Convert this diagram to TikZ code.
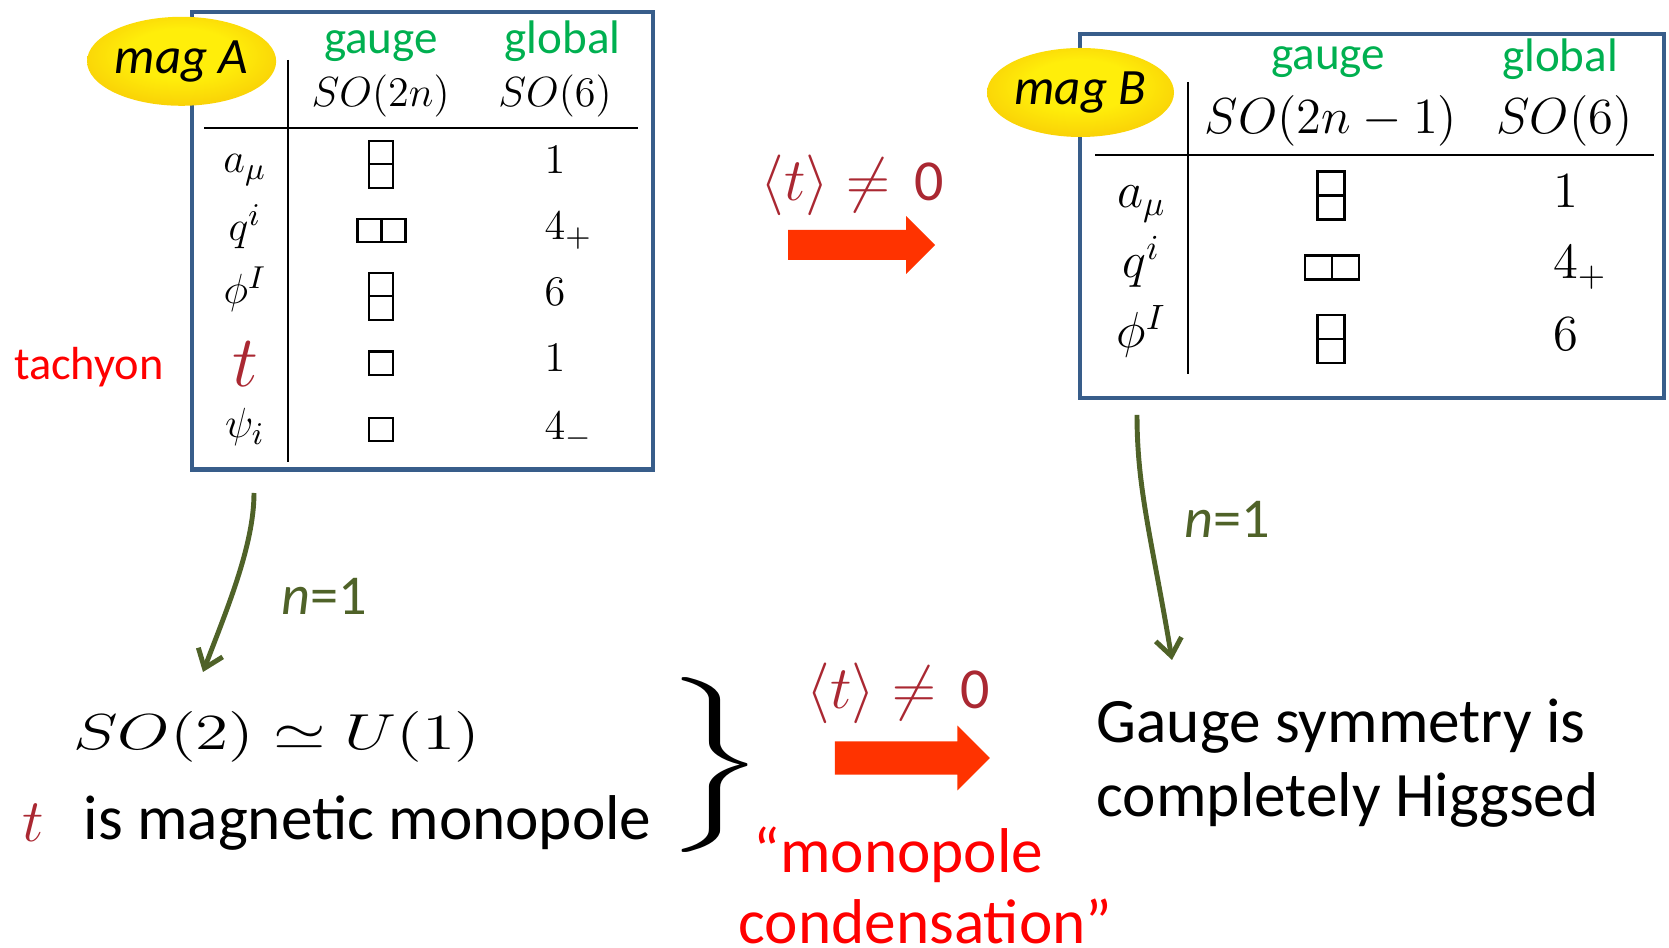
\documentclass[tikz,border=0pt]{standalone}
\usepackage[no-math]{fontspec}
\setmainfont{Carlito}
\usepackage{mathtools}
\usepackage{graphicx}
\usetikzlibrary{positioning,shapes.geometric,shapes.arrows,arrows.meta}

\definecolor{frameblue}{RGB}{56,93,138}
\definecolor{labelgreen}{RGB}{0,176,80}
\definecolor{flowgreen}{RGB}{79,98,40}
\definecolor{tachred}{RGB}{170,40,50}
\definecolor{condred}{RGB}{255,0,0}
\definecolor{pushred}{RGB}{255,51,0}
\definecolor{magyellow}{RGB}{255,238,10}
\definecolor{magorange}{RGB}{238,155,0}

\pgfdeclareradialshading{magglow}{\pgfpoint{0bp}{6bp}}{%
  color(0bp)=(magyellow); color(14bp)=(magyellow);
  color(32bp)=(magorange!45!magyellow); color(50bp)=(magorange)}

\begin{document}
\begin{tikzpicture}[
    magframe/.style={draw=frameblue, line width=1.25pt, inner sep=0pt},
    magtag/.style={ellipse, shading=magglow, minimum width=1.87cm, minimum height=0.89cm, inner sep=0pt, font=\fontsize{14.5}{17}\selectfont\itshape},
    colhead/.style={anchor=base, text=labelgreen, font=\fontsize{13.4}{16}\selectfont},
    cellA/.style={anchor=base, font=\fontsize{12.8}{15}\selectfont},
    cellB/.style={anchor=base, font=\fontsize{14}{17}\selectfont},
    ybox/.style={draw, line width=0.6pt, inner sep=0pt, outer sep=0pt, minimum width=0.24cm, minimum height=0.235cm},
    ybig/.style={ybox, minimum width=0.27cm, minimum height=0.24cm},
    tabrule/.style={line width=0.6pt},
    vev/.style={anchor=base, text=tachred, font=\fontsize{16.5}{19}\selectfont},
    push/.style={single arrow, fill=pushred, inner xsep=0pt, single arrow tip angle=90},
    flow/.style={draw=flowgreen, line width=1.4pt, -{Straight Barb[length=1.7mm,width=2.6mm]}},
    nlabel/.style={anchor=base, text=flowgreen, font=\fontsize{16}{19}\selectfont},
    bodytext/.style={anchor=base west, inner sep=0pt, font=\fontsize{18}{21}\selectfont}
]
\useasboundingbox (0,0) rectangle (16.69,-9.48);

% mag A table
\node[magframe, minimum width=4.606cm, minimum height=4.573cm] (boxA) at (4.225,-2.4085) {};
\node[colhead] (gaugeA) at (3.81,-0.533) {gauge};
\node[colhead] (globalA) at (5.626,-0.533) {global};
\node[cellA] (grpA) at (3.806,-1.07) {$SO(2n)$};
\node[cellA] (flavA) at (5.55,-1.07) {$SO(6)$};
\draw[tabrule] (2.04,-1.277) -- (6.38,-1.277);
\draw[tabrule] (2.88,-0.60) -- (2.88,-4.617);

\node[cellA] (aA) at (2.45,-1.73) {$a_\mu$};
\node[cellA] (qA) at (2.45,-2.41) {$q^i$};
\node[cellA] (phiA) at (2.45,-3.04) {$\phi^I$};
\node[anchor=base, text=tachred, font=\fontsize{19.4}{22}\selectfont] (tA) at (2.45,-3.87) {$t$};
\node[cellA] (psiA) at (2.45,-4.38) {$\psi_i$};

\node[cellA] (aAg) at (5.55,-1.74) {$1$};
\node[cellA] (qAg) at (5.55,-2.40) {$4\mathrlap{_+}$};
\node[cellA] (phiAg) at (5.55,-3.06) {$6$};
\node[cellA] (tAg) at (5.55,-3.72) {$1$};
\node[cellA] (psiAg) at (5.55,-4.40) {$4\mathrlap{_-}$};

% Young tableaux, mag A
\node[ybox] (aAup) at (3.81,-1.524) {};
\node[ybox, below=0pt of aAup] (aAdn) {};
\node[ybox] (qAl) at (3.695,-2.305) {};
\node[ybox, right=0pt of qAl] (qAr) {};
\node[ybox] (phiAup) at (3.81,-2.845) {};
\node[ybox, below=0pt of phiAup] (phiAdn) {};
\node[ybox] (tAbox) at (3.81,-3.633) {};
\node[ybox] (psiAbox) at (3.81,-4.295) {};

\node[magtag] (tagA) at (1.816,-0.613) {mag A};
\node[anchor=base, text=condred, font=\fontsize{13.2}{16}\selectfont] (tachyon) at (0.889,-3.80) {tachyon};

% mag B table
\node[magframe, minimum width=5.841cm, minimum height=3.639cm] (boxB) at (13.7175,-2.1585) {};
\node[colhead] (gaugeB) at (13.28,-0.70) {gauge};
\node[colhead] (globalB) at (15.60,-0.715) {global};
\node[cellB] (grpB) at (13.31,-1.333) {$SO(2n-1)$};
\node[cellB] (flavB) at (15.645,-1.333) {$SO(6)$};
\draw[tabrule] (10.95,-1.55) -- (16.535,-1.55);
\draw[tabrule] (11.88,-0.82) -- (11.88,-3.74);

\node[cellB] (aB) at (11.415,-2.08) {$a_\mu$};
\node[cellB] (qB) at (11.415,-2.78) {$q^i$};
\node[cellB] (phiB) at (11.415,-3.48) {$\phi^I$};

\node[cellB] (aBg) at (15.655,-2.08) {$1$};
\node[cellB] (qBg) at (15.655,-2.79) {$4\mathrlap{_+}$};
\node[cellB] (phiBg) at (15.655,-3.51) {$6$};

% Young tableaux, mag B
\node[ybig] (aBup) at (13.31,-1.835) {};
\node[ybig, below=0pt of aBup] (aBdn) {};
\node[ybig] (qBl) at (13.185,-2.675) {};
\node[ybig, right=0pt of qBl] (qBr) {};
\node[ybig] (phiBup) at (13.31,-3.272) {};
\node[ybig, below=0pt of phiBup] (phiBdn) {};

\node[magtag] (tagB) at (10.805,-0.925) {mag B};

% condensation arrows
\node[vev] (vevTop) at (8.52,-2.01) {$\langle t\rangle\neq$\hspace{0.42em}0};
\node[push, inner ysep=0.143cm, single arrow head extend=0.138cm, minimum height=1.47cm] (pushTop) at (8.54,-2.45) {};
\node[vev] (vevBot) at (8.98,-7.09) {$\langle t\rangle\neq$\hspace{0.42em}0};
\node[push, inner ysep=0.158cm, single arrow head extend=0.158cm, minimum height=1.55cm] (pushBot) at (9.04,-7.58) {};

% n=1 reductions
\coordinate (fromA) at (2.54,-4.93);
\coordinate (toA) at (2.03,-6.72);
\draw[flow] (fromA) .. controls (2.54,-5.45) and (2.27,-6.09) .. (toA);
\node[nlabel] (nA) at (3.24,-6.15) {\textit{n}=1};

\coordinate (fromB) at (11.37,-4.15);
\coordinate (toB) at (11.72,-6.60);
\draw[flow] (fromB) .. controls (11.37,-4.9) and (11.52,-5.4) .. (toB);
\node[nlabel] (nB) at (12.275,-5.38) {\textit{n}=1};

% n=1 statements
\node[anchor=base, font=\fontsize{14.8}{18}\selectfont] (u1) at (2.77,-7.49) {\scalebox{1.333}[1]{$SO(2)\simeq U(1)$}};
\node[anchor=base, text=tachred, font=\fontsize{18.5}{21}\selectfont] (tBot) at (0.33,-8.41) {$t$};
\node[bodytext] (mono) at (0.83,-8.40) {is magnetic monopole};
\node[font=\fontsize{20}{24}\selectfont] (brace) at (7.11,-7.65) {\scalebox{1.85}[1]{$\left.\vcenter{\hbox{\vrule height 1.5cm width 0pt}}\right\}$}};

\node[bodytext, text=condred] (cond1) at (7.53,-8.72) {“monopole};
\node[bodytext, text=condred] (cond2) at (7.38,-9.43) {condensation”};

\node[bodytext] (higgs1) at (10.96,-7.43) {Gauge symmetry is};
\node[bodytext] (higgs2) at (10.96,-8.16) {completely Higgsed};

\end{tikzpicture}
\end{document}
